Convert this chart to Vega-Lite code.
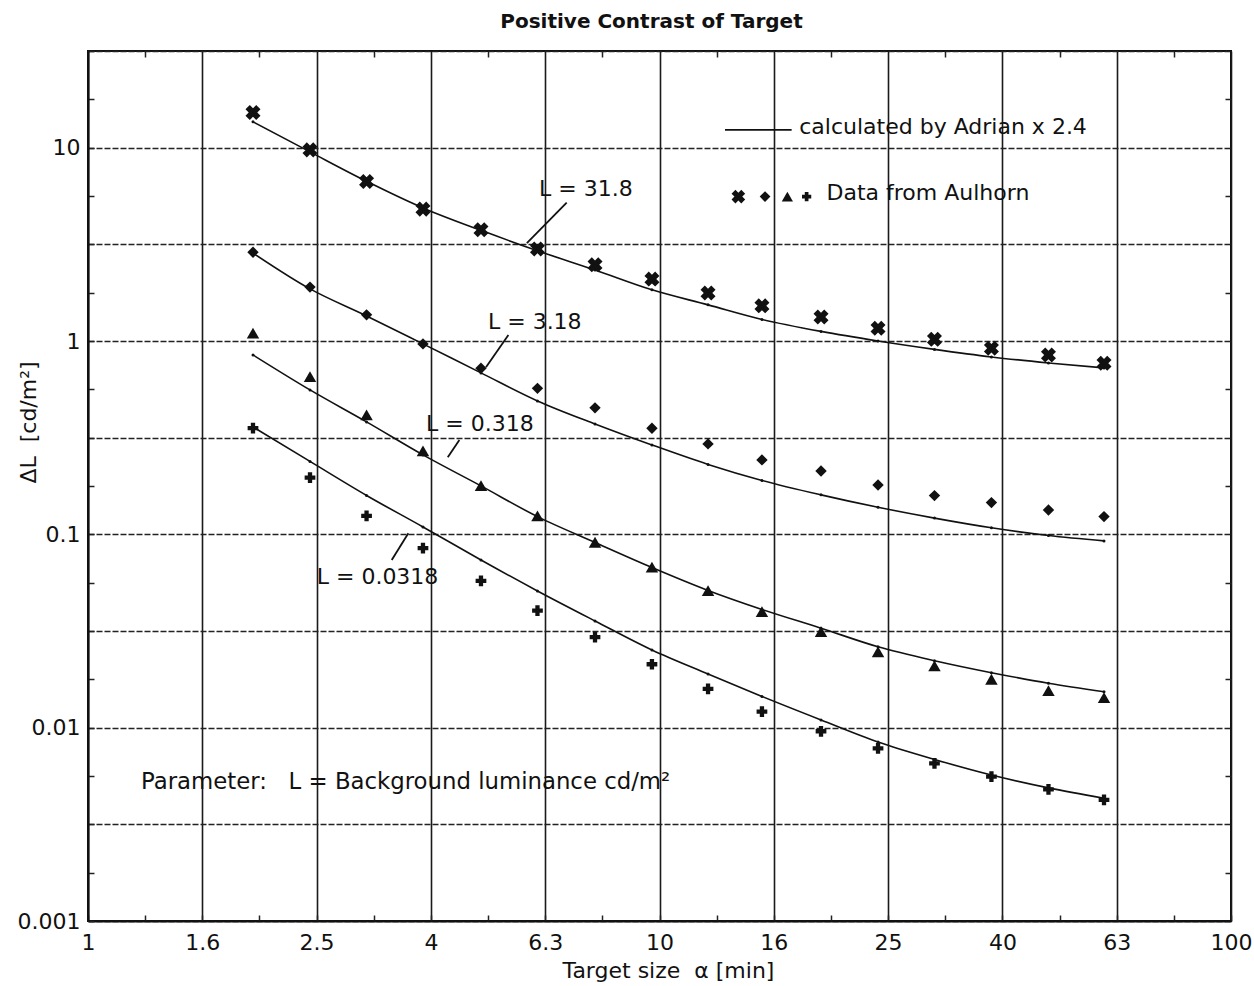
{
  "$schema": "https://vega.github.io/schema/vega-lite/v6.json",
  "width": 1143,
  "height": 870,
  "autosize": {"type": "none"},
  "padding": {"left": 88, "top": 51, "right": 23, "bottom": 65},
  "background": "white",
  "title": {"text": "Positive Contrast of Target", "font": "DejaVu Sans", "fontSize": 20, "fontWeight": "bold", "color": "#111", "anchor": "middle", "dx": -8, "offset": 8},
  "config": {
    "view": {"stroke": "#111", "strokeWidth": 2},
    "font": "DejaVu Sans",
    "text": {"font": "DejaVu Sans", "color": "#111"}
  },
  "datasets": {
    "calc": [
      {"L": "31.8", "x": 1.944, "y": 13.6}, {"L": "31.8", "x": 2.446, "y": 9.51}, {"L": "31.8", "x": 3.072, "y": 6.7}, {"L": "31.8", "x": 3.856, "y": 4.88},
      {"L": "31.8", "x": 4.871, "y": 3.735}, {"L": "31.8", "x": 6.116, "y": 2.93}, {"L": "31.8", "x": 7.712, "y": 2.33}, {"L": "31.8", "x": 9.70, "y": 1.84},
      {"L": "31.8", "x": 12.16, "y": 1.538}, {"L": "31.8", "x": 15.11, "y": 1.293}, {"L": "31.8", "x": 19.17, "y": 1.121}, {"L": "31.8", "x": 24.12, "y": 1.0},
      {"L": "31.8", "x": 30.28, "y": 0.905}, {"L": "31.8", "x": 38.09, "y": 0.827}, {"L": "31.8", "x": 47.93, "y": 0.77}, {"L": "31.8", "x": 59.95, "y": 0.726},
      {"L": "3.18", "x": 1.944, "y": 2.85}, {"L": "3.18", "x": 2.446, "y": 1.86}, {"L": "3.18", "x": 3.072, "y": 1.348}, {"L": "3.18", "x": 3.856, "y": 0.966},
      {"L": "3.18", "x": 4.871, "y": 0.684}, {"L": "3.18", "x": 6.116, "y": 0.49}, {"L": "3.18", "x": 7.712, "y": 0.3725}, {"L": "3.18", "x": 9.70, "y": 0.29},
      {"L": "3.18", "x": 12.16, "y": 0.23}, {"L": "3.18", "x": 15.11, "y": 0.19}, {"L": "3.18", "x": 19.17, "y": 0.16}, {"L": "3.18", "x": 24.12, "y": 0.138},
      {"L": "3.18", "x": 30.28, "y": 0.1213}, {"L": "3.18", "x": 38.09, "y": 0.1081}, {"L": "3.18", "x": 47.93, "y": 0.0986}, {"L": "3.18", "x": 59.95, "y": 0.0925},
      {"L": "0.318", "x": 1.944, "y": 0.847}, {"L": "0.318", "x": 2.446, "y": 0.5585}, {"L": "0.318", "x": 3.072, "y": 0.3815}, {"L": "0.318", "x": 3.856, "y": 0.2575},
      {"L": "0.318", "x": 4.871, "y": 0.178}, {"L": "0.318", "x": 6.116, "y": 0.1235}, {"L": "0.318", "x": 7.712, "y": 0.0908}, {"L": "0.318", "x": 9.70, "y": 0.0674},
      {"L": "0.318", "x": 12.16, "y": 0.0513}, {"L": "0.318", "x": 15.11, "y": 0.0409}, {"L": "0.318", "x": 19.17, "y": 0.0327}, {"L": "0.318", "x": 24.12, "y": 0.0262},
      {"L": "0.318", "x": 30.28, "y": 0.0222}, {"L": "0.318", "x": 38.09, "y": 0.01925}, {"L": "0.318", "x": 47.93, "y": 0.01697}, {"L": "0.318", "x": 59.95, "y": 0.01535},
      {"L": "0.0318", "x": 1.944, "y": 0.3594}, {"L": "0.0318", "x": 2.446, "y": 0.2383}, {"L": "0.0318", "x": 3.072, "y": 0.1589}, {"L": "0.0318", "x": 3.856, "y": 0.1092},
      {"L": "0.0318", "x": 4.871, "y": 0.0737}, {"L": "0.0318", "x": 6.116, "y": 0.05096}, {"L": "0.0318", "x": 7.712, "y": 0.03565}, {"L": "0.0318", "x": 9.70, "y": 0.02523},
      {"L": "0.0318", "x": 12.16, "y": 0.01896}, {"L": "0.0318", "x": 15.11, "y": 0.0145}, {"L": "0.0318", "x": 19.17, "y": 0.01096}, {"L": "0.0318", "x": 24.12, "y": 0.00843},
      {"L": "0.0318", "x": 30.28, "y": 0.00685}, {"L": "0.0318", "x": 38.09, "y": 0.00569}, {"L": "0.0318", "x": 47.93, "y": 0.00488}, {"L": "0.0318", "x": 59.95, "y": 0.00431}
    ],
    "aulhorn": [
      {"L": "31.8", "x": 1.944, "y": 15.19}, {"L": "31.8", "x": 2.446, "y": 9.74}, {"L": "31.8", "x": 3.072, "y": 6.68}, {"L": "31.8", "x": 3.856, "y": 4.81},
      {"L": "31.8", "x": 4.871, "y": 3.76}, {"L": "31.8", "x": 6.116, "y": 2.99}, {"L": "31.8", "x": 7.712, "y": 2.48}, {"L": "31.8", "x": 9.70, "y": 2.09},
      {"L": "31.8", "x": 12.16, "y": 1.77}, {"L": "31.8", "x": 15.11, "y": 1.52}, {"L": "31.8", "x": 19.17, "y": 1.33}, {"L": "31.8", "x": 24.12, "y": 1.165},
      {"L": "31.8", "x": 30.28, "y": 1.02}, {"L": "31.8", "x": 38.09, "y": 0.918}, {"L": "31.8", "x": 47.93, "y": 0.847}, {"L": "31.8", "x": 59.95, "y": 0.767},
      {"L": "3.18", "x": 1.944, "y": 2.88}, {"L": "3.18", "x": 2.446, "y": 1.9}, {"L": "3.18", "x": 3.072, "y": 1.365}, {"L": "3.18", "x": 3.856, "y": 0.966},
      {"L": "3.18", "x": 4.871, "y": 0.723}, {"L": "3.18", "x": 6.116, "y": 0.569}, {"L": "3.18", "x": 7.712, "y": 0.451}, {"L": "3.18", "x": 9.70, "y": 0.354},
      {"L": "3.18", "x": 12.16, "y": 0.2936}, {"L": "3.18", "x": 15.11, "y": 0.2426}, {"L": "3.18", "x": 19.17, "y": 0.2128}, {"L": "3.18", "x": 24.12, "y": 0.18},
      {"L": "3.18", "x": 30.28, "y": 0.1586}, {"L": "3.18", "x": 38.09, "y": 0.1459}, {"L": "3.18", "x": 47.93, "y": 0.1337}, {"L": "3.18", "x": 59.95, "y": 0.1235},
      {"L": "0.318", "x": 1.944, "y": 1.097}, {"L": "0.318", "x": 2.446, "y": 0.6545}, {"L": "0.318", "x": 3.072, "y": 0.4147}, {"L": "0.318", "x": 3.856, "y": 0.27},
      {"L": "0.318", "x": 4.871, "y": 0.1786}, {"L": "0.318", "x": 6.116, "y": 0.1245}, {"L": "0.318", "x": 7.712, "y": 0.091}, {"L": "0.318", "x": 9.70, "y": 0.0676},
      {"L": "0.318", "x": 12.16, "y": 0.0511}, {"L": "0.318", "x": 15.11, "y": 0.0398}, {"L": "0.318", "x": 19.17, "y": 0.0314}, {"L": "0.318", "x": 24.12, "y": 0.0247},
      {"L": "0.318", "x": 30.28, "y": 0.0209}, {"L": "0.318", "x": 38.09, "y": 0.0178}, {"L": "0.318", "x": 47.93, "y": 0.01554}, {"L": "0.318", "x": 59.95, "y": 0.0143},
      {"L": "0.0318", "x": 1.944, "y": 0.354}, {"L": "0.0318", "x": 2.446, "y": 0.1965}, {"L": "0.0318", "x": 3.072, "y": 0.1245}, {"L": "0.0318", "x": 3.856, "y": 0.0848},
      {"L": "0.0318", "x": 4.871, "y": 0.0574}, {"L": "0.0318", "x": 6.116, "y": 0.0403}, {"L": "0.0318", "x": 7.712, "y": 0.0294}, {"L": "0.0318", "x": 9.70, "y": 0.02128},
      {"L": "0.0318", "x": 12.16, "y": 0.01586}, {"L": "0.0318", "x": 15.11, "y": 0.0121}, {"L": "0.0318", "x": 19.17, "y": 0.00958}, {"L": "0.0318", "x": 24.12, "y": 0.00782},
      {"L": "0.0318", "x": 30.28, "y": 0.00654}, {"L": "0.0318", "x": 38.09, "y": 0.00558}, {"L": "0.0318", "x": 47.93, "y": 0.0048}, {"L": "0.0318", "x": 59.95, "y": 0.00423}
    ],
    "legendMarks": [
      {"L": "31.8", "x": 13.74, "y": 5.585},
      {"L": "3.18", "x": 15.3, "y": 5.585},
      {"L": "0.318", "x": 16.74, "y": 5.585},
      {"L": "0.0318", "x": 18.09, "y": 5.585}
    ],
    "pointers": [
      {"x": 6.88, "y": 5.2, "x2": 5.86, "y2": 3.205},
      {"x": 5.44, "y": 1.075, "x2": 4.97, "y2": 0.732},
      {"x": 4.465, "y": 0.3078, "x2": 4.261, "y2": 0.2505},
      {"x": 3.635, "y": 0.1013, "x2": 3.4, "y2": 0.0737},
      {"x": 13.02, "y": 12.37, "x2": 17.03, "y2": 12.37}
    ],
    "labels": [
      {"x": 6.153, "y": 6.12, "text": "L = 31.8"},
      {"x": 5.01, "y": 1.255, "text": "L = 3.18"},
      {"x": 3.904, "y": 0.3725, "text": "L = 0.318"},
      {"x": 2.513, "y": 0.0602, "text": "L = 0.0318"},
      {"x": 17.56, "y": 12.86, "text": "calculated by Adrian x 2.4"},
      {"x": 19.6, "y": 5.815, "text": "Data from Aulhorn"}
    ],
    "notes": [
      {"x": 1.238, "y": 0.00526, "text": "Parameter:\u00a0\u00a0\u00a0L = Background luminance cd/m²"}
    ]
  },
  "resolve": {"axis": {"x": "independent", "y": "independent"}},
  "layer": [
    {
      "encoding": {
        "x": {
          "field": "x", "type": "quantitative",
          "scale": {"type": "log", "domain": [1, 100], "nice": false},
          "axis": {
            "values": [1, 1.2589, 1.5849, 1.9953, 2.5119, 3.1623, 3.9811, 5.0119, 6.3096, 7.9433, 10, 12.589, 15.849, 19.953, 25.119, 31.623, 39.811, 50.119, 63.096, 79.433, 100],
            "labelExpr": "abs(log(datum.value)/LN10*5 - round(log(datum.value)/LN10*5)) < 0.01 ? format(datum.value, '.2~r') : ''",
            "grid": true,
            "gridOpacity": {"condition": {"test": "abs(log(datum.value)/LN10*5 - round(log(datum.value)/LN10*5)) < 0.01", "value": 1}, "value": 0},
            "gridColor": "#1a1a1a", "gridWidth": 1.6,
            "ticks": true, "tickSize": -6, "tickColor": "#222", "tickWidth": 1.5,
            "labelPadding": 17, "labelFont": "DejaVu Sans", "labelFontSize": 22, "labelColor": "#111",
            "labelOverlap": false, "labelFlush": false, "labelBound": false,
            "domain": true, "domainColor": "#111", "domainWidth": 2,
            "title": "Target size\u00a0\u00a0α [min]", "titleFont": "DejaVu Sans", "titleFontSize": 22, "titleFontWeight": "normal", "titleColor": "#111",
            "titleX": 580, "titleY": 49, "titleBaseline": "middle"
          }
        },
        "y": {
          "field": "y", "type": "quantitative",
          "scale": {"type": "log", "domain": [0.001, 31.623], "nice": false},
          "axis": {
            "values": [0.001, 0.0017783, 0.0031623, 0.0056234, 0.01, 0.017783, 0.031623, 0.056234, 0.1, 0.17783, 0.31623, 0.56234, 1, 1.7783, 3.1623, 5.6234, 10, 17.783, 31.623],
            "labelExpr": "abs(log(datum.value)/LN10 - round(log(datum.value)/LN10)) < 0.01 ? format(datum.value, '~g') : ''",
            "grid": true,
            "gridOpacity": {"condition": {"test": "abs(log(datum.value)/LN10*2 - round(log(datum.value)/LN10*2)) < 0.01", "value": 1}, "value": 0},
            "gridColor": "#222", "gridWidth": 1.7, "gridDash": [6, 2],
            "ticks": true, "tickSize": -6, "tickColor": "#222", "tickWidth": 1.5,
            "labelPadding": 14, "labelFont": "DejaVu Sans", "labelFontSize": 22, "labelColor": "#111",
            "labelOverlap": false, "labelFlush": false, "labelBound": false,
            "domain": true, "domainColor": "#111", "domainWidth": 2,
            "title": "ΔL\u00a0\u00a0[cd/m²]", "titleFont": "DejaVu Sans", "titleFontSize": 22, "titleFontWeight": "normal", "titleColor": "#111",
            "titleX": -60, "titleY": 371, "titleBaseline": "middle"
          }
        }
      },
      "layer": [
        {
          "data": {"name": "calc"},
          "mark": {"type": "line", "color": "#111", "strokeWidth": 1.6, "interpolate": "monotone", "point": {"filled": true, "size": 9, "color": "#111"}},
          "encoding": {"detail": {"field": "L"}}
        },
        {
          "data": {"name": "aulhorn"},
          "transform": [{"filter": "datum.L == '31.8'"}],
          "mark": {"type": "point", "shape": "cross", "angle": 45, "filled": true, "size": 230, "color": "#111", "opacity": 1}
        },
        {
          "data": {"name": "aulhorn"},
          "transform": [{"filter": "datum.L == '3.18'"}],
          "mark": {"type": "point", "shape": "diamond", "filled": true, "size": 130, "color": "#111", "opacity": 1}
        },
        {
          "data": {"name": "aulhorn"},
          "transform": [{"filter": "datum.L == '0.318'"}],
          "mark": {"type": "point", "shape": "triangle-up", "filled": true, "size": 155, "color": "#111", "opacity": 1}
        },
        {
          "data": {"name": "aulhorn"},
          "transform": [{"filter": "datum.L == '0.0318'"}],
          "mark": {"type": "point", "shape": "cross", "filled": true, "size": 115, "color": "#111", "opacity": 1}
        },
        {
          "data": {"name": "legendMarks"},
          "transform": [{"filter": "datum.L == '31.8'"}],
          "mark": {"type": "point", "shape": "cross", "angle": 45, "filled": true, "size": 190, "color": "#111", "opacity": 1}
        },
        {
          "data": {"name": "legendMarks"},
          "transform": [{"filter": "datum.L == '3.18'"}],
          "mark": {"type": "point", "shape": "diamond", "filled": true, "size": 115, "color": "#111", "opacity": 1}
        },
        {
          "data": {"name": "legendMarks"},
          "transform": [{"filter": "datum.L == '0.318'"}],
          "mark": {"type": "point", "shape": "triangle-up", "filled": true, "size": 125, "color": "#111", "opacity": 1}
        },
        {
          "data": {"name": "legendMarks"},
          "transform": [{"filter": "datum.L == '0.0318'"}],
          "mark": {"type": "point", "shape": "cross", "filled": true, "size": 85, "color": "#111", "opacity": 1}
        },
        {
          "data": {"name": "pointers"},
          "mark": {"type": "rule", "color": "#111", "strokeWidth": 1.8},
          "encoding": {"x2": {"field": "x2"}, "y2": {"field": "y2"}}
        },
        {
          "data": {"name": "labels"},
          "mark": {"type": "text", "align": "left", "baseline": "middle", "fontSize": 22, "font": "DejaVu Sans", "color": "#111"},
          "encoding": {"text": {"field": "text"}}
        },
        {
          "data": {"name": "notes"},
          "mark": {"type": "text", "align": "left", "baseline": "middle", "fontSize": 22.8, "font": "DejaVu Sans", "color": "#111"},
          "encoding": {"text": {"field": "text"}}
        }
      ]
    },
    {
      "data": {"name": "legendMarks"},
      "mark": {"type": "point", "opacity": 0},
      "encoding": {
        "x": {
          "field": "x", "type": "quantitative",
          "scale": {"type": "log", "domain": [1, 100], "nice": false},
          "axis": {
            "orient": "top",
            "values": [1.2589, 1.9953, 3.1623, 5.0119, 7.9433, 12.589, 19.953, 31.623, 50.119, 79.433],
            "labels": false, "grid": false, "domain": false, "title": null,
            "ticks": true, "tickSize": -6, "tickColor": "#222", "tickWidth": 1.5
          }
        },
        "y": {
          "field": "y", "type": "quantitative",
          "scale": {"type": "log", "domain": [0.001, 31.623], "nice": false},
          "axis": {
            "orient": "right",
            "values": [0.0017783, 0.0056234, 0.017783, 0.056234, 0.17783, 0.56234, 1.7783, 5.6234, 17.783],
            "labels": false, "grid": false, "domain": false, "title": null,
            "ticks": true, "tickSize": -6, "tickColor": "#222", "tickWidth": 1.5
          }
        }
      }
    }
  ]
}
